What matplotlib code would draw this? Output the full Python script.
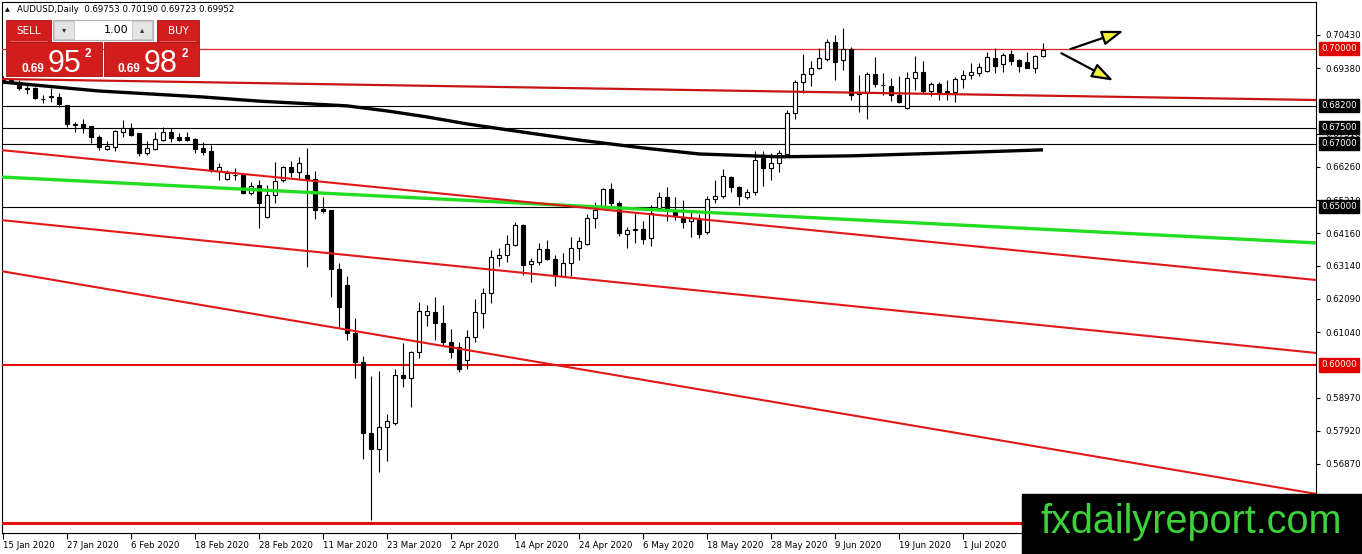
import matplotlib
matplotlib.use("Agg")
import matplotlib.pyplot as plt
import matplotlib.transforms as mtransforms
from matplotlib.patches import Rectangle, FancyArrowPatch

# AUDUSD daily, 15 Jan 2020 .. 15 Jul 2020 (one entry per bar)
opens = [0.6903, 0.6897, 0.6895, 0.6874, 0.6876, 0.6842, 0.6846, 0.6848, 0.6822, 0.6760,
         0.6762, 0.6755, 0.6721, 0.6683, 0.6689, 0.6736, 0.6749, 0.6733, 0.6670, 0.6683,
         0.6711, 0.6736, 0.6720, 0.6721, 0.6714, 0.6686, 0.6676, 0.6613, 0.6588, 0.6600,
         0.6601, 0.6544, 0.6569, 0.6468, 0.6537, 0.6585, 0.6626, 0.6610, 0.6601, 0.6588,
         0.6492, 0.6490, 0.6303, 0.6253, 0.6101, 0.6010, 0.5785, 0.5735, 0.5804, 0.5817,
         0.5969, 0.5959, 0.6041, 0.6158, 0.6168, 0.6133, 0.6073, 0.6057, 0.6016, 0.6088,
         0.6164, 0.6227, 0.6338, 0.6348, 0.6380, 0.6443, 0.6319, 0.6326, 0.6367, 0.6335,
         0.6282, 0.6322, 0.6370, 0.6383, 0.6465, 0.6503, 0.6556, 0.6512, 0.6414, 0.6429,
         0.6430, 0.6402, 0.6496, 0.6531, 0.6487, 0.6468, 0.6455, 0.6458, 0.6420, 0.6525,
         0.6534, 0.6594, 0.6562, 0.6531, 0.6547, 0.6654, 0.6623, 0.6638, 0.6667, 0.6797,
         0.6894, 0.6920, 0.6939, 0.6967, 0.7021, 0.6964, 0.6999, 0.6858, 0.6860, 0.6920,
         0.6886, 0.6882, 0.6853, 0.6812, 0.6907, 0.6926, 0.6866, 0.6888, 0.6866, 0.6863,
         0.6904, 0.6917, 0.6923, 0.6929, 0.6970, 0.6951, 0.6983, 0.6964, 0.6958, 0.6939,
         0.69753]
highs = [0.6912, 0.6906, 0.6902, 0.6885, 0.6879, 0.6853, 0.6876, 0.6861, 0.6822, 0.6767,
         0.6777, 0.6756, 0.6727, 0.6708, 0.6743, 0.6774, 0.6765, 0.6733, 0.6708, 0.6736,
         0.6752, 0.6749, 0.6733, 0.6737, 0.6718, 0.6705, 0.6695, 0.6638, 0.6616, 0.6623,
         0.6607, 0.6578, 0.6585, 0.6569, 0.6642, 0.6629, 0.6645, 0.6657, 0.6686, 0.6613,
         0.6530, 0.6490, 0.6323, 0.6281, 0.6149, 0.6028, 0.5965, 0.5981, 0.5845, 0.5988,
         0.6070, 0.6045, 0.6199, 0.6190, 0.6215, 0.6190, 0.6114, 0.6073, 0.6111, 0.6209,
         0.6243, 0.6364, 0.6370, 0.6411, 0.6452, 0.6446, 0.6338, 0.6386, 0.6395, 0.6348,
         0.6354, 0.6405, 0.6405, 0.6477, 0.6515, 0.6560, 0.6575, 0.6518, 0.6436, 0.6481,
         0.6455, 0.6506, 0.6547, 0.6563, 0.6531, 0.6522, 0.6484, 0.6477, 0.6534, 0.6585,
         0.6620, 0.6597, 0.6566, 0.6556, 0.6677, 0.6677, 0.6670, 0.6680, 0.6806, 0.6901,
         0.6983, 0.6961, 0.7001, 0.7030, 0.7043, 0.7065, 0.7005, 0.6917, 0.6926, 0.6973,
         0.6923, 0.6907, 0.6913, 0.6926, 0.6977, 0.6961, 0.6894, 0.6894, 0.6901, 0.6910,
         0.6932, 0.6955, 0.6955, 0.6989, 0.7002, 0.6986, 0.6995, 0.6967, 0.6990, 0.6980,
         0.70190]
lows = [0.6893, 0.6892, 0.6869, 0.6856, 0.6841, 0.6828, 0.6831, 0.6815, 0.6753, 0.6737,
        0.6733, 0.6702, 0.6680, 0.6680, 0.6676, 0.6721, 0.6724, 0.6661, 0.6664, 0.6680,
        0.6708, 0.6705, 0.6708, 0.6708, 0.6670, 0.6664, 0.6610, 0.6585, 0.6585, 0.6585,
        0.6541, 0.6537, 0.6433, 0.6465, 0.6512, 0.6578, 0.6594, 0.6585, 0.6310, 0.6460,
        0.6480, 0.6215, 0.6120, 0.6079, 0.5959, 0.5703, 0.5510, 0.5662, 0.5697, 0.5810,
        0.5931, 0.5868, 0.6022, 0.6123, 0.6079, 0.6063, 0.6022, 0.5978, 0.5987, 0.6073,
        0.6117, 0.6196, 0.6313, 0.6326, 0.6376, 0.6284, 0.6262, 0.6316, 0.6332, 0.6250,
        0.6278, 0.6282, 0.6332, 0.6380, 0.6433, 0.6500, 0.6500, 0.6408, 0.6370, 0.6386,
        0.6383, 0.6376, 0.6490, 0.6455, 0.6458, 0.6433, 0.6405, 0.6402, 0.6414, 0.6512,
        0.6528, 0.6547, 0.6506, 0.6525, 0.6537, 0.6566, 0.6585, 0.6610, 0.6658, 0.6778,
        0.6860, 0.6882, 0.6936, 0.6961, 0.6901, 0.6932, 0.6838, 0.6800, 0.6778, 0.6879,
        0.6853, 0.6835, 0.6828, 0.6809, 0.6869, 0.6860, 0.6850, 0.6838, 0.6838, 0.6831,
        0.6876, 0.6904, 0.6913, 0.6926, 0.6923, 0.6926, 0.6948, 0.6926, 0.6939, 0.6923,
        0.69723]
closes = [0.6898, 0.6900, 0.6876, 0.6871, 0.6845, 0.6840, 0.6849, 0.6826, 0.6762, 0.6762,
          0.6749, 0.6721, 0.6689, 0.6692, 0.6740, 0.6749, 0.6727, 0.6670, 0.6686, 0.6714,
          0.6736, 0.6718, 0.6711, 0.6711, 0.6683, 0.6673, 0.6616, 0.6626, 0.6607, 0.6602,
          0.6544, 0.6566, 0.6512, 0.6537, 0.6582, 0.6626, 0.6610, 0.6638, 0.6585, 0.6490,
          0.6487, 0.6303, 0.6183, 0.6101, 0.6010, 0.5785, 0.5735, 0.5804, 0.5823, 0.5969,
          0.5959, 0.6041, 0.6171, 0.6171, 0.6133, 0.6073, 0.6041, 0.5987, 0.6088, 0.6168,
          0.6227, 0.6341, 0.6348, 0.6383, 0.6443, 0.6316, 0.6329, 0.6367, 0.6335, 0.6285,
          0.6322, 0.6370, 0.6392, 0.6465, 0.6490, 0.6556, 0.6512, 0.6417, 0.6427, 0.6426,
          0.6398, 0.6481, 0.6531, 0.6493, 0.6471, 0.6452, 0.6465, 0.6414, 0.6525, 0.6534,
          0.6597, 0.6562, 0.6534, 0.6547, 0.6648, 0.6623, 0.6638, 0.6670, 0.6797, 0.6894,
          0.6920, 0.6939, 0.6970, 0.7021, 0.6958, 0.6999, 0.6853, 0.6862, 0.6920, 0.6888,
          0.6884, 0.6853, 0.6831, 0.6907, 0.6926, 0.6866, 0.6888, 0.6863, 0.6860, 0.6904,
          0.6917, 0.6926, 0.6942, 0.6973, 0.6945, 0.6980, 0.6961, 0.6945, 0.6939, 0.6977,
          0.69952]

# moving average (black thick line), sampled along the chart
ma_bars = [0, 12, 25, 32, 43, 48, 53, 58, 65, 72, 80, 87, 97, 106, 118, 130]
ma_vals = [0.6894, 0.6866, 0.6847, 0.6834, 0.6819, 0.6803, 0.6784, 0.6762, 0.6736,
           0.6711, 0.6686, 0.6667, 0.6658, 0.6661, 0.6670, 0.6680]

# sloping trend lines: two points each (bar, price)
trend_top = [(0, 0.69038), (160, 0.68392)]
trend_green = [(0, 0.65938), (160, 0.63911)]
trend_a = [(0, 0.66787), (160, 0.62789)]
trend_b = [(0, 0.64574), (160, 0.60486)]
trend_c = [(0, 0.62957), (160, 0.56103)]

# horizontal levels
red_levels = [0.70, 0.60, 0.55]
black_levels = [0.682, 0.675, 0.67, 0.65]
boxed_labels = [("0.70000", 0.70, "#e00000"), ("0.68200", 0.682, "black"),
                ("0.67500", 0.675, "black"), ("0.67000", 0.67, "black"),
                ("0.65000", 0.65, "black"), ("0.60000", 0.60, "#e00000")]
price_ticks = [0.70430, 0.69380, 0.67310, 0.66260, 0.65210, 0.64160, 0.63140,
               0.62090, 0.61040, 0.58970, 0.57920, 0.56870, 0.55820]

date_bars = [0, 8, 16, 24, 32, 40, 48, 56, 64, 72, 80, 88, 96, 104, 112, 120]
date_labels = ["15 Jan 2020", "27 Jan 2020", "6 Feb 2020", "18 Feb 2020", "28 Feb 2020",
               "11 Mar 2020", "23 Mar 2020", "2 Apr 2020", "14 Apr 2020", "24 Apr 2020",
               "6 May 2020", "18 May 2020", "28 May 2020", "9 Jun 2020", "19 Jun 2020",
               "1 Jul 2020"]

# drawn arrows (bar, price) start -> end
arrows = [((133.1, 0.69956), (140.4, 0.70588)), ((132.0, 0.69893), (139.1, 0.68945))]

W, H = 1362, 554
fig = plt.figure(figsize=(W / 100, H / 100), dpi=100)
fig.patch.set_facecolor("white")
ax = fig.add_axes([2 / W, 21 / H, 1314 / W, 531 / H])
ax.set_xlim(-0.125, 164.125)
ax.set_ylim(0.54689, 0.71473)

# levels
for lv in black_levels:
    ax.axhline(lv, color="black", lw=0.8, zorder=3)
ax.axhline(red_levels[0], color="#e02020", lw=0.9, zorder=3)
ax.axhline(red_levels[1], color="#e01010", lw=1.5, zorder=3)
ax.axhline(red_levels[2], color="#e01010", lw=2.2, zorder=3)

# candles
for i in range(len(opens)):
    o, h, l, c = opens[i], highs[i], lows[i], closes[i]
    ax.vlines(i, l, h, color="black", lw=0.8, zorder=4)
    bottom = min(o, c)
    height = max(abs(c - o), 0.00004)
    face = "white" if c >= o else "black"
    ax.bar(i, height, bottom=bottom, width=0.62, color=face, edgecolor="black",
           linewidth=0.8, zorder=5)

# trend lines and MA drawn over the candles
ax.axline(trend_top[0], trend_top[1], color="#c81414", lw=1.6, zorder=6)
ax.axline(trend_green[0], trend_green[1], color="#22dd22", lw=2.4, zorder=6)
ax.axline(trend_a[0], trend_a[1], color="#e01818", lw=1.5, zorder=6)
ax.axline(trend_b[0], trend_b[1], color="#e01818", lw=1.5, zorder=6)
ax.axline(trend_c[0], trend_c[1], color="#e01818", lw=1.5, zorder=6)
ax.plot(ma_bars, ma_vals, color="black", lw=2.4, zorder=6, solid_capstyle="butt")

for start, end in arrows:
    ax.add_patch(FancyArrowPatch(start, end, arrowstyle="-|>,head_length=13,head_width=4.5",
                                 mutation_scale=1, lw=1.6, edgecolor="black",
                                 facecolor="#f4f040", zorder=7))

# axes styling
for s in ax.spines.values():
    s.set_color("black")
    s.set_linewidth(0.8)
ax.yaxis.tick_right()
ax.set_yticks(price_ticks)
ax.set_yticklabels(["%.5f" % p for p in price_ticks])
ax.set_xticks(date_bars)
ax.set_xticklabels(date_labels, ha="left")
ax.tick_params(axis="y", direction="out", length=3, width=0.8, pad=4, labelsize=6.2,
               colors="black")
ax.tick_params(axis="x", direction="out", length=4, width=0.8, pad=1.5, labelsize=6.2,
               colors="black")

trans = mtransforms.blended_transform_factory(ax.transAxes, ax.transData)
for txt, lv, col in boxed_labels:
    ax.text(1.0 + 5 / 1314, lv, txt, transform=trans, fontsize=6.2, color="white",
            va="center", ha="left", clip_on=False, zorder=10,
            bbox=dict(boxstyle="square,pad=0.25", fc=col, ec=col))

# overlay in pixel coordinates for the trade panel and watermark
ov = fig.add_axes([0, 0, 1, 1])
ov.set_xlim(0, W)
ov.set_ylim(H, 0)
ov.axis("off")

ov.text(5, 10, "\u25b2", fontsize=4.5, va="center", ha="left")
ov.text(17, 10, "AUDUSD,Daily  0.69753 0.70190 0.69723 0.69952", fontsize=6.2,
        va="center", ha="left")

red = "#d21d1d"
ov.add_patch(Rectangle((6, 20), 45, 22, fc=red, ec="#a81010", lw=0.6))
ov.add_patch(Rectangle((157, 20), 42, 22, fc=red, ec="#a81010", lw=0.6))
ov.add_patch(Rectangle((6, 42), 96, 34, fc=red, ec="#a81010", lw=0.6))
ov.add_patch(Rectangle((104, 42), 95, 34, fc=red, ec="#a81010", lw=0.6))
ov.plot([10, 47], [41, 41], color="#e87070", lw=0.6)
ov.plot([160, 195], [41, 41], color="#e87070", lw=0.6)
ov.text(28.5, 31, "SELL", color="white", fontsize=7.5, ha="center", va="center")
ov.text(178, 31, "BUY", color="white", fontsize=7.5, ha="center", va="center")

ov.add_patch(Rectangle((53, 20), 100, 20, fc="white", ec="#b0b0b0", lw=0.8))
ov.add_patch(Rectangle((54, 21), 20, 18, fc="#e4e4e4", ec="#c0c0c0", lw=0.6))
ov.add_patch(Rectangle((132, 21), 20, 18, fc="#e4e4e4", ec="#c0c0c0", lw=0.6))
ov.text(64, 30, "\u25be", fontsize=6, ha="center", va="center", color="#333333")
ov.text(142, 30, "\u25b4", fontsize=6, ha="center", va="center", color="#333333")
ov.text(128, 30, "1.00", fontsize=8, ha="right", va="center", color="black")

ov.text(21, 72, "0.69", color="white", fontsize=8.5, fontweight="bold",
        family="Liberation Sans", ha="left", va="baseline")
ov.text(48, 72, "95", color="white", fontsize=22, family="Liberation Sans",
        ha="left", va="baseline")
ov.text(85, 57, "2", color="white", fontsize=8.5, fontweight="bold",
        family="Liberation Sans", ha="left", va="baseline")
ov.text(118, 72, "0.69", color="white", fontsize=8.5, fontweight="bold",
        family="Liberation Sans", ha="left", va="baseline")
ov.text(144, 72, "98", color="white", fontsize=22, family="Liberation Sans",
        ha="left", va="baseline")
ov.text(182, 57, "2", color="white", fontsize=8.5, fontweight="bold",
        family="Liberation Sans", ha="left", va="baseline")

ov.add_patch(Rectangle((1022, 494), 340, 60, fc="black", ec="black"))
ov.text(1191, 522, "fxdailyreport.com", color="#3cd23c", fontsize=28.5,
        family="Liberation Sans", ha="center", va="center")

fig.savefig("out.png", dpi=100)
